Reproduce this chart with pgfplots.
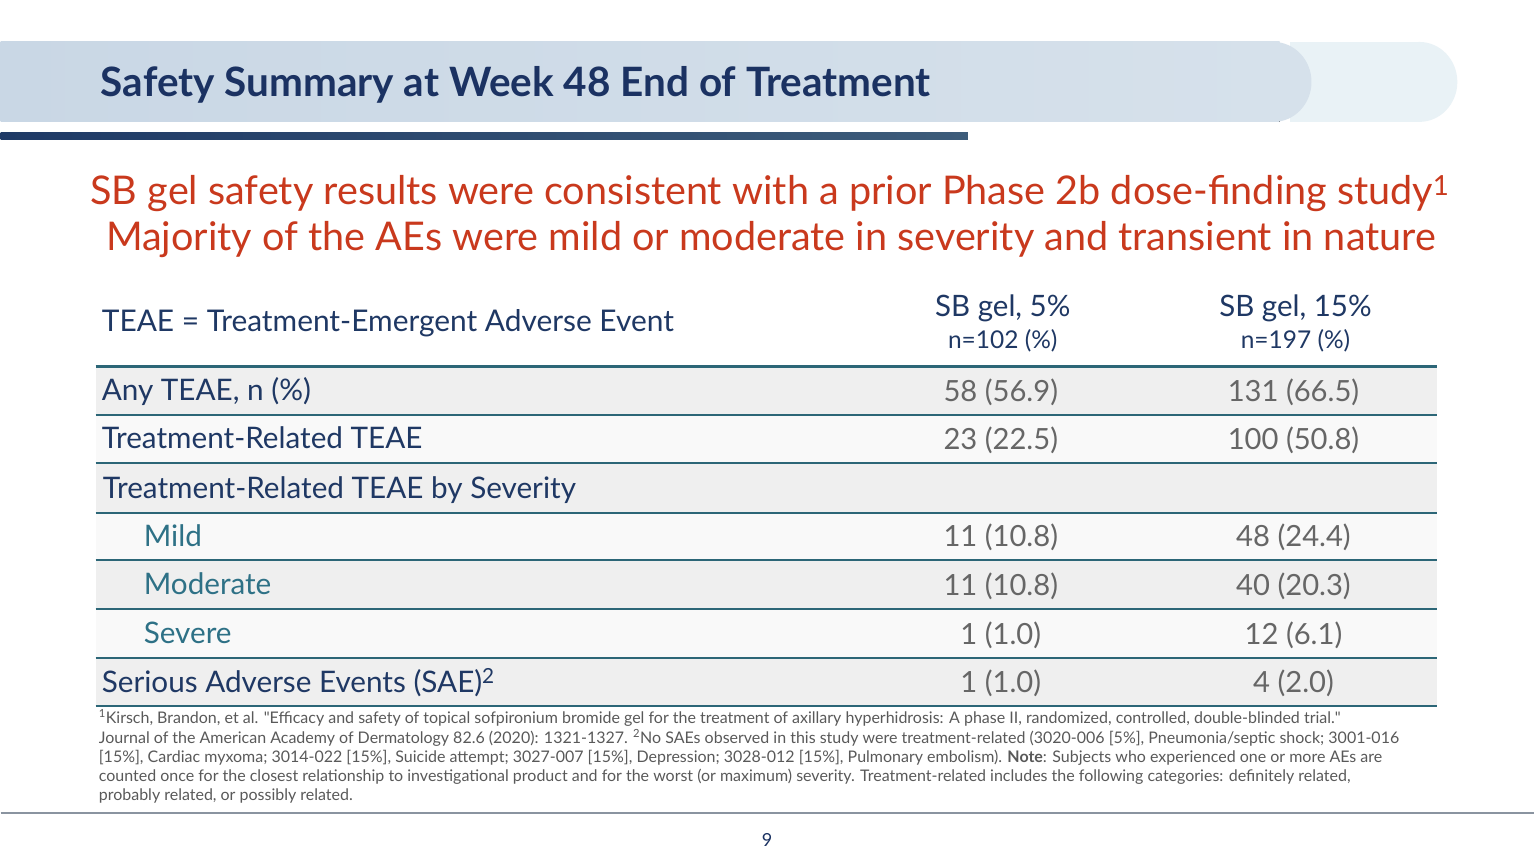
\documentclass[border=0pt]{standalone}
\usepackage{pgfplots}
\pgfplotsset{compat=1.18}
\usepackage{pgfplotstable}
\usepackage{fontspec}
\setmainfont{Lato}
\definecolor{navy}{HTML}{1B3262}
\definecolor{hdrnavy}{HTML}{1F3864}
\definecolor{redt}{HTML}{C9391D}
\definecolor{teal}{HTML}{2C6677}
\definecolor{subteal}{HTML}{2E7186}
\definecolor{valgray}{HTML}{666666}
\definecolor{fngray}{HTML}{595959}
\definecolor{bandA}{HTML}{C9D7E5}
\definecolor{bandB}{HTML}{D6E1EB}
\definecolor{bandL}{HTML}{E9F2F6}
\definecolor{barA}{HTML}{1F3A66}
\definecolor{barB}{HTML}{3D5C7A}
\definecolor{rowgray}{HTML}{EFEFEF}
\definecolor{rowwhite}{HTML}{F9F9F9}
\definecolor{lineg}{HTML}{8A94A0}

\pgfplotstableread{
y n5 p5 n15 p15
391 58 56.9 131 66.5
439 23 22.5 100 50.8
537 11 10.8 48 24.4
585.5 11 10.8 40 20.3
634.5 1 1.0 12 6.1
683 1 1.0 4 2.0
}\datatable

\begin{document}
\begin{tikzpicture}
\begin{axis}[scale only axis, width=1535pt, height=863pt,
  xmin=0, xmax=1535, ymin=0, ymax=863, y dir=reverse,
  axis lines=none, clip=false]
% background
\fill[white] (axis cs:0,0) rectangle (axis cs:1535,863);
% header band
\fill[bandL] (axis cs:1290,42) rectangle (axis cs:1420,122);
\fill[bandL] (axis cs:1420,82) ellipse [x radius=38pt, y radius=40pt];
\fill[bandB] (axis cs:1274,82) ellipse [x radius=38pt, y radius=40pt];
\fill[left color=bandA, right color=bandB] (axis cs:0,42) rectangle (axis cs:1280,122);
\fill[left color=barA, right color=barB] (axis cs:0,133) rectangle (axis cs:968,140);
\node[anchor=base west, inner sep=0pt, text=navy, font=\fontsize{40.5}{48}\selectfont\bfseries] at (axis cs:100,97) {Safety Summary at Week 48 End of Treatment};
% subtitle
\node[anchor=base, inner sep=0pt, text=redt, font=\fontsize{39.6}{46}\selectfont] at (axis cs:770,205) {SB gel safety results were consistent with a prior Phase 2b dose-finding study\textsuperscript{1}};
\node[anchor=base, inner sep=0pt, text=redt, font=\fontsize{39.6}{46}\selectfont] at (axis cs:771,251) {Majority of the AEs were mild or moderate in severity and transient in nature};
% column header
\node[anchor=base west, inner sep=0pt, text=hdrnavy, font=\fontsize{29.9}{34}\selectfont] at (axis cs:101,332) {TEAE = Treatment-Emergent Adverse Event};
\node[anchor=base, inner sep=0pt, text=hdrnavy, font=\fontsize{29.5}{34}\selectfont] at (axis cs:1003,317) {SB gel, 5\%};
\node[anchor=base, inner sep=0pt, text=hdrnavy, font=\fontsize{24.5}{30}\selectfont] at (axis cs:1003,349) {n=102 (\%)};
\node[anchor=base, inner sep=0pt, text=hdrnavy, font=\fontsize{29.5}{34}\selectfont] at (axis cs:1296,317) {SB gel, 15\%};
\node[anchor=base, inner sep=0pt, text=hdrnavy, font=\fontsize{24.5}{30}\selectfont] at (axis cs:1296,349) {n=197 (\%)};
% row backgrounds
\fill[rowgray]  (axis cs:95,367) rectangle (axis cs:1438,415);
\fill[rowwhite] (axis cs:95,415) rectangle (axis cs:1438,463);
\fill[rowgray]  (axis cs:95,463) rectangle (axis cs:1438,513);
\fill[rowwhite] (axis cs:95,513) rectangle (axis cs:1438,561);
\fill[rowgray]  (axis cs:95,561) rectangle (axis cs:1438,610);
\fill[rowwhite] (axis cs:95,610) rectangle (axis cs:1438,659);
\fill[rowgray]  (axis cs:95,659) rectangle (axis cs:1438,707);
\draw[teal, line width=3.5pt] (axis cs:95,367) -- (axis cs:1438,367);
\draw[teal, line width=2pt] (axis cs:95,415) -- (axis cs:1438,415);
\draw[teal, line width=2pt] (axis cs:95,463) -- (axis cs:1438,463);
\draw[teal, line width=2pt] (axis cs:95,513) -- (axis cs:1438,513);
\draw[teal, line width=2pt] (axis cs:95,561) -- (axis cs:1438,561);
\draw[teal, line width=2pt] (axis cs:95,610) -- (axis cs:1438,610);
\draw[teal, line width=2pt] (axis cs:95,659) -- (axis cs:1438,659);
\draw[teal, line width=2pt] (axis cs:95,707) -- (axis cs:1438,707);
% row labels
\tikzset{rl/.style={anchor=base west, inner sep=0pt, text=hdrnavy, font=\fontsize{29.7}{34}\selectfont},
         sl/.style={anchor=base west, inner sep=0pt, text=subteal, font=\fontsize{29.7}{34}\selectfont}}
\node[rl] at (axis cs:101,401) {Any TEAE, n (\%)};
\node[rl] at (axis cs:101,449) {Treatment-Related TEAE};
\node[rl] at (axis cs:102,498.5) {Treatment-Related TEAE by Severity};
\node[sl] at (axis cs:143,547) {Mild};
\node[sl] at (axis cs:143,595.5) {Moderate};
\node[sl] at (axis cs:143,644.5) {Severe};
\node[rl] at (axis cs:101,693) {Serious Adverse Events (SAE)\textsuperscript{2}};
% values
\pgfplotsset{valnodes/.style={draw=none, mark=none, point meta=explicit,
  nodes near coords align=center,
  every node near coord/.append style={anchor=center, text height=21pt, text depth=0pt, inner sep=0pt, text=valgray, font=\fontsize{29.2}{34}\selectfont}}}
\addplot[valnodes, visualization depends on={\thisrow{p5}\as\pval},
  nodes near coords={\pgfmathprintnumber[fixed,precision=0,assume math mode=true]{\pgfplotspointmeta}\ (\pgfmathprintnumber[fixed,fixed zerofill,precision=1,assume math mode=true]{\pval})}]
  table[x expr=1001, y=y, meta=n5]{\datatable};
\addplot[valnodes, visualization depends on={\thisrow{p15}\as\pval},
  nodes near coords={\pgfmathprintnumber[fixed,precision=0,assume math mode=true]{\pgfplotspointmeta}\ (\pgfmathprintnumber[fixed,fixed zerofill,precision=1,assume math mode=true]{\pval})}]
  table[x expr=1294, y=y, meta=n15]{\datatable};
% footnotes
\tikzset{fn/.style={anchor=base west, inner sep=0pt, text=fngray, font=\fontsize{16}{19}\selectfont}}
\node[fn] at (axis cs:98,724) {\textsuperscript{1}Kirsch, Brandon, et al. \textquotedbl Efficacy and safety of topical sofpironium bromide gel for the treatment of axillary hyperhidrosis: A phase II, randomized, controlled, double-blinded trial.\textquotedbl};
\node[fn] at (axis cs:98,744) {Journal of the American Academy of Dermatology 82.6 (2020): 1321-1327. \textsuperscript{2}No SAEs observed in this study were treatment-related (3020-006 [5\%], Pneumonia/septic shock; 3001-016};
\node[fn] at (axis cs:98,763) {[15\%], Cardiac myxoma; 3014-022 [15\%], Suicide attempt; 3027-007 [15\%], Depression; 3028-012 [15\%], Pulmonary embolism). \textbf{Note}: Subjects who experienced one or more AEs are};
\node[fn] at (axis cs:98,782) {counted once for the closest relationship to investigational product and for the worst (or maximum) severity. Treatment-related includes the following categories: definitely related,};
\node[fn] at (axis cs:98,801) {probably related, or possibly related.};
% bottom line and page number
\draw[lineg, line width=1.5pt] (axis cs:0,814) -- (axis cs:1535,814);
\node[anchor=base, inner sep=0pt, text=navy, font=\fontsize{18}{22}\selectfont] at (axis cs:767,847) {9};
\end{axis}
\end{tikzpicture}
\end{document}
